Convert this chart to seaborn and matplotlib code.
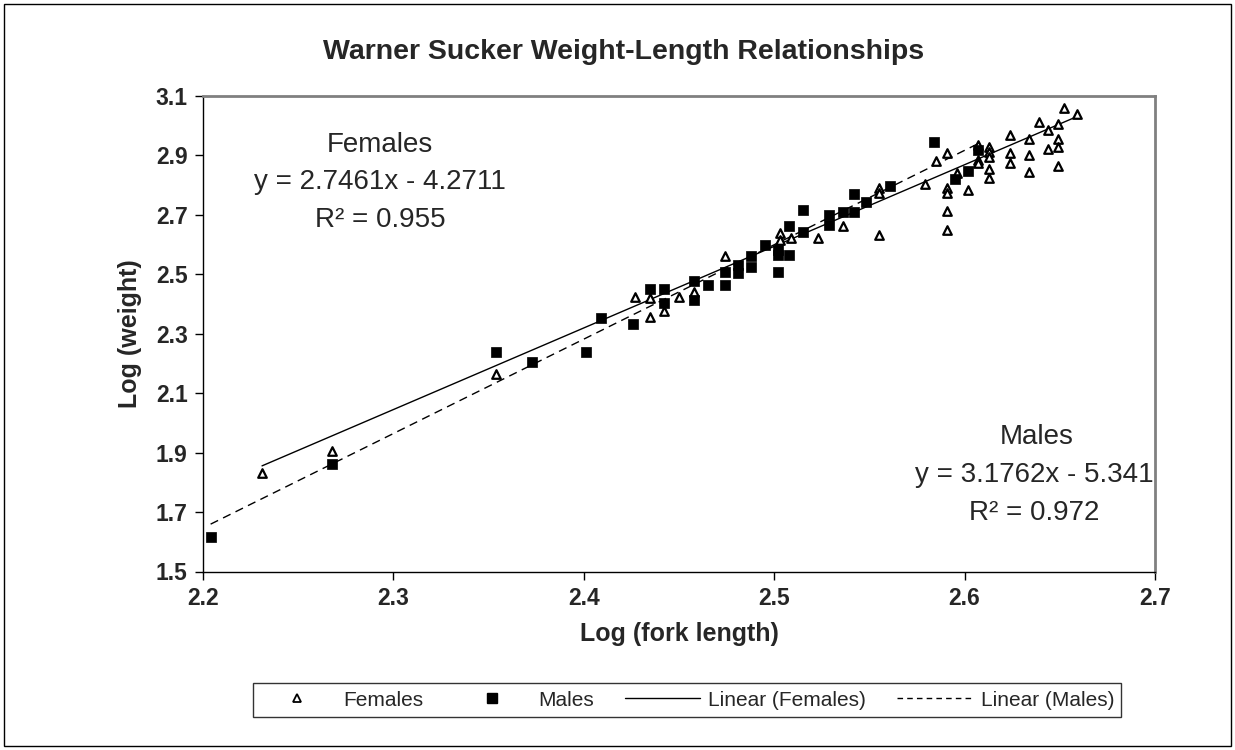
import matplotlib
matplotlib.use("Agg")
import numpy as np
import pandas as pd
import matplotlib.pyplot as plt
import seaborn as sns
from matplotlib.lines import Line2D
from matplotlib.patches import Rectangle

# log(fork length) / log(weight)
female_log_length = [2.231, 2.268, 2.354, 2.427, 2.435, 2.435, 2.442, 2.450, 2.458, 2.474,
                     2.503, 2.503, 2.509, 2.523, 2.536, 2.555, 2.555, 2.555, 2.579, 2.585,
                     2.591, 2.591, 2.591, 2.591, 2.591, 2.596, 2.602, 2.607, 2.607, 2.607,
                     2.613, 2.613, 2.613, 2.613, 2.613, 2.624, 2.624, 2.624, 2.634, 2.634,
                     2.634, 2.639, 2.644, 2.644, 2.649, 2.649, 2.649, 2.649, 2.652, 2.659]
female_log_weight = [1.831, 1.906, 2.164, 2.425, 2.420, 2.358, 2.375, 2.425, 2.442, 2.562,
                     2.639, 2.616, 2.622, 2.622, 2.661, 2.633, 2.790, 2.775, 2.804, 2.882,
                     2.908, 2.790, 2.775, 2.714, 2.648, 2.841, 2.785, 2.936, 2.886, 2.874,
                     2.930, 2.911, 2.895, 2.855, 2.824, 2.970, 2.908, 2.876, 2.955, 2.902,
                     2.844, 3.011, 2.987, 2.922, 3.007, 2.955, 2.928, 2.863, 3.060, 3.040]

male_log_length = [2.204, 2.268, 2.354, 2.373, 2.401, 2.409, 2.426, 2.435, 2.442, 2.442,
                   2.458, 2.458, 2.465, 2.474, 2.474, 2.481, 2.481, 2.488, 2.488, 2.495,
                   2.502, 2.502, 2.502, 2.508, 2.508, 2.515, 2.515, 2.529, 2.529, 2.536,
                   2.542, 2.542, 2.548, 2.561, 2.584, 2.595, 2.602, 2.607]
male_log_weight = [1.617, 1.861, 2.240, 2.206, 2.240, 2.353, 2.332, 2.450, 2.450, 2.405,
                   2.476, 2.414, 2.465, 2.509, 2.465, 2.532, 2.506, 2.560, 2.524, 2.599,
                   2.582, 2.566, 2.509, 2.661, 2.566, 2.717, 2.644, 2.700, 2.667, 2.711,
                   2.711, 2.771, 2.745, 2.798, 2.945, 2.822, 2.849, 2.919]

# trendline equations printed on the chart
female_fit = (2.7461, -4.2711, 0.955)
male_fit = (3.1762, -5.341, 0.972)

x_ticks = [2.2, 2.3, 2.4, 2.5, 2.6, 2.7]
y_ticks = [1.5, 1.7, 1.9, 2.1, 2.3, 2.5, 2.7, 2.9, 3.1]

sns.set_theme(style="white")
plt.rcParams['font.family'] = ['Liberation Sans', 'DejaVu Sans']

W, H = 1235, 750
fig = plt.figure(figsize=(W / 100, H / 100), dpi=100)
ax = fig.add_axes([203 / W, 1 - 571.5 / H, 952 / W, 475.5 / H])

# points
sns.scatterplot(x=female_log_length, y=female_log_weight, marker='^', s=38,
                color='white', edgecolor='black', linewidth=1.6, ax=ax, zorder=3)
sns.scatterplot(x=male_log_length, y=male_log_weight, marker='s', s=62,
                color='black', edgecolor='black', linewidth=0.5, ax=ax, zorder=4)

# trendlines over each series' range
fx = np.array([min(female_log_length), max(female_log_length)])
mx = np.array([min(male_log_length), max(male_log_length)])
sns.lineplot(x=fx, y=female_fit[0] * fx + female_fit[1], color='black', lw=1, ax=ax, zorder=2)
sns.lineplot(x=mx, y=male_fit[0] * mx + male_fit[1], color='black', lw=1,
             linestyle=(0, (6, 4)), ax=ax, zorder=2)

ax.set_xlim(x_ticks[0], x_ticks[-1])
ax.set_ylim(y_ticks[0], y_ticks[-1])
ax.set_xticks(x_ticks)
ax.set_yticks(y_ticks)
ax.set_xticklabels([f"{v:.1f}" for v in x_ticks], fontsize=16.5, fontweight='bold')
ax.set_yticklabels([f"{v:.1f}" for v in y_ticks], fontsize=16.5, fontweight='bold')
ax.tick_params(axis='both', direction='out', length=6, width=1, color='black', pad=5,
               bottom=True, left=True)
ax.set_xlabel("Log (fork length)", fontsize=18, fontweight='bold', labelpad=9)
ax.set_ylabel("Log (weight)", fontsize=18, fontweight='bold', labelpad=10)

for side in ['top', 'right']:
    ax.spines[side].set_color('#808080')
    ax.spines[side].set_linewidth(2)
for side in ['left', 'bottom']:
    ax.spines[side].set_color('black')
    ax.spines[side].set_linewidth(1)

fig.text(0.505, 1 - 52 / H, "Warner Sucker Weight-Length Relationships",
         ha='center', va='center', fontsize=20.5, fontweight='bold')

# trendline labels
fig.text(380 / W, 1 - 145 / H, "Females", ha='center', va='center', fontsize=20)
fig.text(380 / W, 1 - 182 / H, f"y = {female_fit[0]}x - {abs(female_fit[1])}",
         ha='center', va='center', fontsize=20)
fig.text(380 / W, 1 - 220 / H, f"R\u00b2 = {female_fit[2]}", ha='center', va='center', fontsize=20)
fig.text(1037 / W, 1 - 437 / H, "Males", ha='center', va='center', fontsize=20)
fig.text(1034 / W, 1 - 475 / H, f"y = {male_fit[0]}x - {abs(male_fit[1])}",
         ha='center', va='center', fontsize=20)
fig.text(1034 / W, 1 - 513 / H, f"R\u00b2 = {male_fit[2]}", ha='center', va='center', fontsize=20)

handles = [
    Line2D([], [], marker='^', ls='none', mfc='white', mec='black', mew=1.3, ms=6),
    Line2D([], [], marker='s', ls='none', mfc='black', mec='black', ms=7),
    Line2D([], [], color='black', lw=1),
    Line2D([], [], color='black', lw=1, ls=(0, (4, 3))),
]
labels = ["Females", "Males", "Linear (Females)", "Linear (Males)"]
leg = fig.legend(handles, labels, loc='center', bbox_to_anchor=(687 / W, 1 - 700 / H),
                 ncol=4, fontsize=15, frameon=True, fancybox=False, edgecolor='black',
                 handlelength=3.6, columnspacing=1.5, handletextpad=0.4, borderpad=0.35,
                 borderaxespad=0)
leg.get_frame().set_linewidth(1)

fig.patches.append(Rectangle((4 / W, 4 / H), 1 - 8 / W, 1 - 8 / H, transform=fig.transFigure,
                             fill=False, edgecolor='black', lw=1))

fig.savefig("out.png", dpi=100)
